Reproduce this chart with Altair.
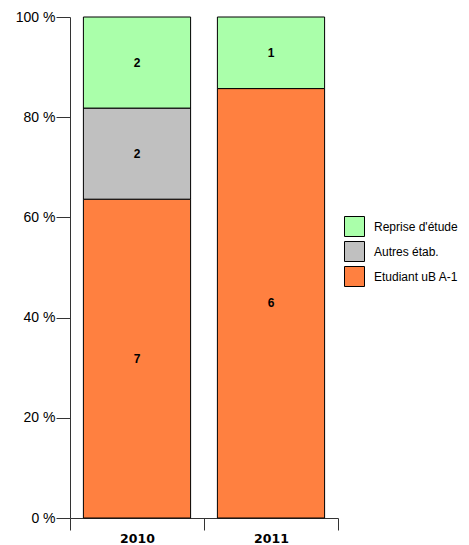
import altair as alt
import pandas as pd

years = ["2010", "2011"]
categories = ["Etudiant uB A-1", "Autres étab.", "Reprise d'étude"]
values_2010 = [7, 2, 2]
values_2011 = [6, 0, 1]
legend_order = ["Reprise d'étude", "Autres étab.", "Etudiant uB A-1"]
colors = ["#AAFFAA", "#C0C0C0", "#FF8040"]
y_ticks = [0, 0.2, 0.4, 0.6, 0.8, 1.0]

rows = []
for year, vals in zip(years, [values_2010, values_2011]):
    for i, (cat, v) in enumerate(zip(categories, vals)):
        if v > 0:
            rows.append({"year": year, "category": cat, "count": v, "order": i})
df = pd.DataFrame(rows)

FONT = "Liberation Sans"

base = alt.Chart(df).transform_stack(
    stack="count",
    groupby=["year"],
    as_=["y0", "y1"],
    offset="normalize",
    sort=[alt.SortField("order", order="ascending")],
).transform_calculate(mid="(datum.y0 + datum.y1) / 2")

x_enc = alt.X(
    "year:N",
    title=None,
    scale=alt.Scale(paddingInner=0, paddingOuter=0),
    axis=alt.Axis(
        tickBand="extent",
        labelAngle=0,
        labelFont="DejaVu Sans",
        labelFontSize=12.5,
        labelFontWeight="bold",
        labelColor="#000",
        labelPadding=2,
        tickSize=12,
        tickColor="#333",
        domainColor="#333",
        grid=False,
    ),
)

bars = base.mark_bar(
    width=alt.RelativeBandSize(0.8), stroke="black", strokeWidth=1
).encode(
    x=x_enc,
    y=alt.Y(
        "y0:Q",
        title=None,
        scale=alt.Scale(domain=[0, 1], nice=False),
        axis=alt.Axis(
            values=y_ticks,
            labelExpr="format(datum.value * 100, 'd') + ' %'",
            labelFont=FONT,
            labelFontSize=14,
            labelColor="#000",
            labelPadding=1,
            tickSize=14,
            tickColor="#333",
            domainColor="#333",
            grid=False,
        ),
    ),
    y2="y1:Q",
    color=alt.Color(
        "category:N",
        scale=alt.Scale(domain=legend_order, range=colors),
        legend=alt.Legend(
            title=None,
            orient="none",
            legendX=274,
            legendY=199,
            symbolType="square",
            symbolSize=400,
            symbolStrokeColor="black",
            symbolStrokeWidth=1,
            symbolOpacity=1,
            labelFont=FONT,
            labelFontSize=12,
            labelColor="#000",
            labelOffset=9,
            rowPadding=0,
        ),
    ),
)

labels = base.mark_text(
    font=FONT, fontSize=12, fontWeight="bold", color="black"
).encode(
    x=alt.X("year:N"),
    y=alt.Y("mid:Q"),
    text=alt.Text("count:Q"),
)

chart = (
    alt.layer(bars, labels)
    .properties(
        width=268,
        height=501,
        autosize=alt.AutoSizeParams(type="none"),
        padding={"left": 62, "top": 9, "right": 123, "bottom": 27},
    )
    .configure_view(stroke=None)
)

chart.save("out.html", embed_options={"renderer": "svg", "actions": False})
